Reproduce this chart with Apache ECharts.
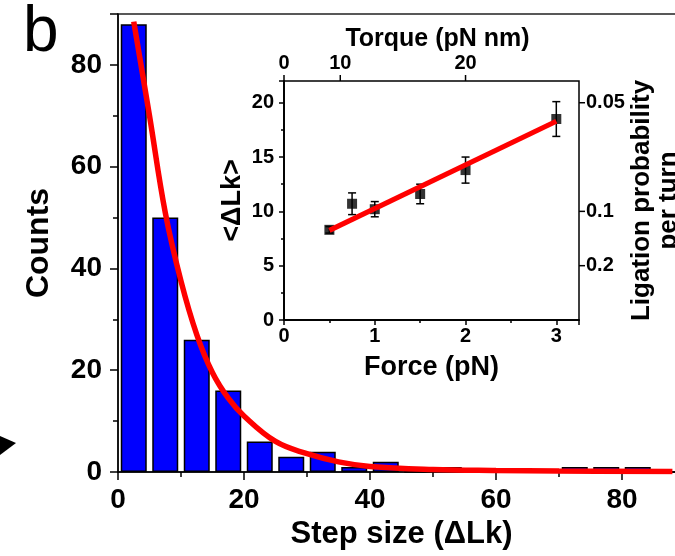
<!DOCTYPE html>
<html>
<head>
<meta charset="utf-8">
<script src="https://cdn.jsdelivr.net/npm/echarts@6.0.0/dist/echarts.min.js"></script>
<style>
    html, body { margin: 0; padding: 0; background: #fff; }
    #chart { width: 675px; height: 556px; }
</style>
</head>
<body>
<div id="chart"></div>
<script>
    // 直方图：步长 (ΔLk) 分箱中心与计数
    var binCenters = [2.5, 7.5, 12.5, 17.5, 22.5, 27.5, 32.5, 37.5, 42.5, 47.5, 52.5, 57.5, 62.5, 67.5, 72.5, 77.5, 82.5, 87.5];
    var binCounts = [88, 50, 26, 16, 6, 3, 4, 1, 2, 0, 1, 0, 0, 0, 1, 1, 1, 0];

    // 指数拟合曲线 (从图上读取的点)
    var fitX = [2.5, 5, 7.5, 10, 12.5, 15, 17.5, 20, 25, 30, 35, 40, 50, 60, 70, 88];
    var fitY = [88.5, 70, 51, 37.5, 27, 19.5, 14.5, 11, 6, 3.6, 2.0, 1.1, 0.5, 0.3, 0.2, 0.1];

    // 插图：力 vs <ΔLk>
    var forceVals = [0.5, 0.75, 1.0, 1.5, 2.0, 3.0];
    var meanLk = [8.3, 10.7, 10.2, 11.6, 13.8, 18.5];
    var errLk = [0.3, 1.0, 0.7, 0.9, 1.2, 1.6];
    var lineFitX = [0.5, 3.0];
    var lineFitY = [8.25, 18.3];

    // 上轴 (扭矩) 刻度，对应的力值
    var torqueLabels = ['0', '10', '20'];
    var torqueAtForce = [0, 0.62, 2.0];

    // 右轴 (连接概率) 刻度，对应的 <ΔLk>
    var ligationLabels = ['0.05', '0.1', '0.2'];
    var ligationAtLk = [20, 10, 5];

    var FONT = 'Liberation Sans';
    var FORCE_MAX = 3.25;
    var LK_MAX = 22;

    function zip(a, b) {
        var out = [];
        for (var i = 0; i < a.length; i++) out.push([a[i], b[i]]);
        return out;
    }

    // 误差棒
    function renderErrorBar(params, api) {
        var x = api.value(0);
        var top = api.coord([x, api.value(2)]);
        var bot = api.coord([x, api.value(1)]);
        var cap = 4;
        var st = { stroke: '#000', lineWidth: 1.5 };
        return {
            type: 'group',
            children: [
                { type: 'line', shape: { x1: top[0], y1: top[1], x2: bot[0], y2: bot[1] }, style: st },
                { type: 'line', shape: { x1: top[0] - cap, y1: top[1], x2: top[0] + cap, y2: top[1] }, style: st },
                { type: 'line', shape: { x1: bot[0] - cap, y1: bot[1], x2: bot[0] + cap, y2: bot[1] }, style: st }
            ]
        };
    }

    // 上轴与右轴的非线性刻度线
    function renderTopTick(params, api) {
        var p = api.coord([api.value(0), LK_MAX]);
        return { type: 'line', shape: { x1: p[0], y1: p[1], x2: p[0], y2: p[1] - 6 }, style: { stroke: '#000', lineWidth: 1.5 } };
    }
    function renderRightTick(params, api) {
        var p = api.coord([FORCE_MAX, api.value(0)]);
        return { type: 'line', shape: { x1: p[0], y1: p[1], x2: p[0] + 6, y2: p[1] }, style: { stroke: '#000', lineWidth: 1.5 } };
    }

    var errData = [];
    for (var i = 0; i < forceVals.length; i++) {
        errData.push([forceVals[i], meanLk[i] - errLk[i], meanLk[i] + errLk[i]]);
    }

    var axisLineStyle = { show: true, lineStyle: { color: '#000', width: 1.5 } };
    var bigLabel = { color: '#000', fontFamily: FONT, fontWeight: 'bold', fontSize: 28 };
    var smallLabel = { color: '#000', fontFamily: FONT, fontWeight: 'bold', fontSize: 20 };

    var myChart = echarts.init(document.getElementById('chart'));

    var option = {
        animation: false,
        backgroundColor: '#fff',
        title: {
            text: 'b', left: 18, top: -4,
            textStyle: { fontFamily: FONT, fontWeight: 'normal', fontSize: 64, color: '#000' }
        },
        grid: [
            { left: 118, top: 14, width: 567, height: 458, show: true, borderColor: '#222', borderWidth: 1.5, outerBoundsMode: 'none' },
            { left: 284, top: 81, width: 295, height: 239, show: true, borderColor: '#000', borderWidth: 1.5, backgroundColor: '#fff', outerBoundsMode: 'none' }
        ],
        xAxis: [
            {
                gridIndex: 0, type: 'value', min: 0, max: 90, interval: 20,
                name: 'Step size (ΔLk)', nameLocation: 'middle', nameGap: 44,
                nameTextStyle: { color: '#000', fontFamily: FONT, fontWeight: 'bold', fontSize: 31 },
                axisLine: axisLineStyle,
                axisTick: { show: true, inside: false, length: 8, lineStyle: { color: '#000', width: 1.5 } },
                minorTick: { show: true, splitNumber: 2, length: 5, lineStyle: { color: '#000', width: 1.5 } },
                axisLabel: Object.assign({ margin: 14, showMaxLabel: false }, bigLabel),
                splitLine: { show: false }
            },
            {
                gridIndex: 1, type: 'value', min: 0, max: FORCE_MAX, interval: 1,
                name: 'Force (pN)', nameLocation: 'middle', nameGap: 34,
                nameTextStyle: { color: '#000', fontFamily: FONT, fontWeight: 'bold', fontSize: 27 },
                axisLine: axisLineStyle,
                axisTick: { show: true, length: 5, lineStyle: { color: '#000', width: 1.5 } },
                minorTick: { show: true, splitNumber: 2, length: 3, lineStyle: { color: '#000', width: 1.5 } },
                axisLabel: Object.assign({ margin: 6, showMaxLabel: false }, smallLabel),
                splitLine: { show: false }
            },
            {
                gridIndex: 1, type: 'value', position: 'top', min: 0, max: FORCE_MAX,
                name: 'Torque (pN nm)', nameLocation: 'middle', nameGap: 28,
                nameTextStyle: { color: '#000', fontFamily: FONT, fontWeight: 'bold', fontSize: 25, padding: [0, 0, 0, 12] },
                axisLine: axisLineStyle,
                axisTick: { show: false },
                axisLabel: Object.assign({
                    margin: 8,
                    customValues: torqueAtForce,
                    formatter: function(v) {
                        var idx = torqueAtForce.indexOf(v);
                        return idx >= 0 ? torqueLabels[idx] : '';
                    }
                }, smallLabel),
                splitLine: { show: false }
            }
        ],
        yAxis: [
            {
                gridIndex: 0, type: 'value', min: 0, max: 90, interval: 20,
                name: 'Counts', nameLocation: 'middle', nameGap: 63,
                nameTextStyle: { color: '#000', fontFamily: FONT, fontWeight: 'bold', fontSize: 32 },
                axisLine: axisLineStyle,
                axisTick: { show: true, length: 8, lineStyle: { color: '#000', width: 1.5 } },
                minorTick: { show: true, splitNumber: 2, length: 5, lineStyle: { color: '#000', width: 1.5 } },
                axisLabel: Object.assign({ margin: 16, showMaxLabel: false }, bigLabel),
                splitLine: { show: false }
            },
            {
                gridIndex: 1, type: 'value', min: 0, max: LK_MAX, interval: 5,
                name: '<ΔLk>', nameLocation: 'middle', nameGap: 38,
                nameTextStyle: { color: '#000', fontFamily: FONT, fontWeight: 'bold', fontSize: 27 },
                axisLine: axisLineStyle,
                axisTick: { show: true, length: 5, lineStyle: { color: '#000', width: 1.5 } },
                minorTick: { show: true, splitNumber: 2, length: 3, lineStyle: { color: '#000', width: 1.5 } },
                axisLabel: Object.assign({ margin: 10, showMaxLabel: false }, smallLabel),
                splitLine: { show: false }
            },
            {
                gridIndex: 1, type: 'value', position: 'right', min: 0, max: LK_MAX,
                name: 'Ligation probability\nper turn', nameLocation: 'middle', nameGap: 48, nameRotate: 90,
                nameTextStyle: { color: '#000', fontFamily: FONT, fontWeight: 'bold', fontSize: 26, lineHeight: 27 },
                axisLine: axisLineStyle,
                axisTick: { show: false },
                axisLabel: Object.assign({
                    margin: 7,
                    customValues: ligationAtLk,
                    formatter: function(v) {
                        var idx = ligationAtLk.indexOf(v);
                        return idx >= 0 ? ligationLabels[idx] : '';
                    }
                }, smallLabel),
                splitLine: { show: false }
            }
        ],
        graphic: [
            // 左边缘的箭头残片
            { type: 'polygon', shape: { points: [[0, 436], [16, 443], [0, 455]] }, style: { fill: '#000' } }
        ],
        series: [
            {
                type: 'bar', xAxisIndex: 0, yAxisIndex: 0,
                data: zip(binCenters, binCounts),
                barWidth: 26,
                itemStyle: { color: '#0000ff', borderColor: '#000', borderWidth: 1.5 },
                z: 2
            },
            {
                type: 'line', xAxisIndex: 0, yAxisIndex: 0,
                data: zip(fitX, fitY),
                smooth: 0.4, showSymbol: false,
                lineStyle: { color: '#ff0000', width: 5.5 },
                z: 3
            },
            {
                type: 'custom', xAxisIndex: 1, yAxisIndex: 1,
                data: errData,
                renderItem: renderErrorBar,
                encode: { x: 0, y: [1, 2] },
                z: 4
            },
            {
                type: 'scatter', xAxisIndex: 1, yAxisIndex: 1,
                data: zip(forceVals, meanLk),
                symbol: 'rect', symbolSize: 10,
                itemStyle: { color: '#000' },
                z: 5
            },
            {
                type: 'line', xAxisIndex: 1, yAxisIndex: 1,
                data: zip(lineFitX, lineFitY),
                showSymbol: false,
                lineStyle: { color: '#ff0000', width: 5 },
                z: 6
            },
            {
                type: 'custom', xAxisIndex: 1, yAxisIndex: 1, clip: false,
                data: torqueAtForce.map(function(v) { return [v]; }),
                renderItem: renderTopTick,
                silent: true, z: 7
            },
            {
                type: 'custom', xAxisIndex: 1, yAxisIndex: 1, clip: false,
                data: ligationAtLk.map(function(v) { return [v]; }),
                renderItem: renderRightTick,
                encode: { y: 0 },
                silent: true, z: 7
            }
        ]
    };

    myChart.setOption(option);
</script>
</body>
</html>
